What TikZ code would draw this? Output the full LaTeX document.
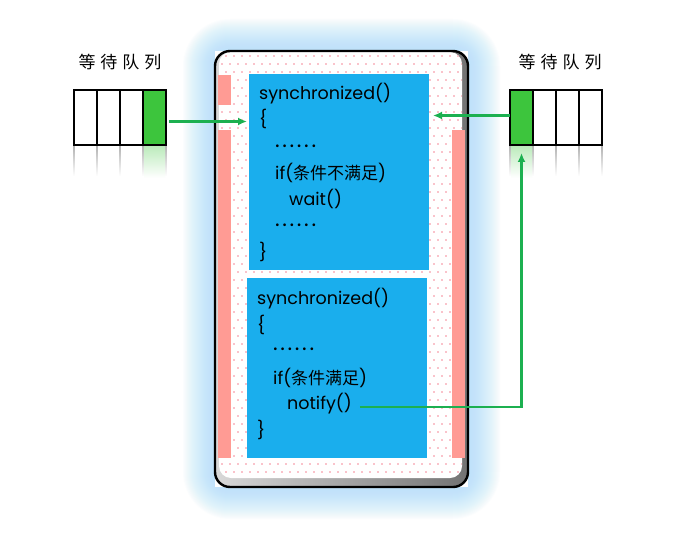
\documentclass[tikz,border=0pt]{standalone}
\usepackage{fontspec}
\setmainfont{Poppins}
\newfontfamily\cjk{Noto Sans CJK SC}
\usetikzlibrary{arrows.meta}
\definecolor{codeblue}{RGB}{26,174,237}
\definecolor{barpink}{RGB}{255,155,148}
\definecolor{cellgreen}{RGB}{61,197,61}
\definecolor{arrowgreen}{RGB}{28,176,80}
\definecolor{glowblue}{RGB}{175,226,250}
\definecolor{dotpink}{RGB}{245,135,150}
\begin{document}
\begin{tikzpicture}[x=1pt,y=-1pt,
 cell/.style={draw=black,line width=1.3pt,minimum width=23pt,minimum height=55pt,inner sep=0pt,outer sep=0pt,fill=white},
 gcell/.style={cell,fill=cellgreen},
 code/.style={anchor=base west,inner sep=0pt,font=\fontsize{17.5}{20}\selectfont},
 qlabel/.style={font=\cjk\fontsize{17}{20}\selectfont,inner sep=0pt},
 garrow/.style={draw=arrowgreen,line width=2.4pt,-{Latex[length=9pt,width=8pt]}},
 codebox/.style={fill=codeblue,inner sep=0pt,outer sep=0pt},
 pinkbar/.style={fill=barpink},
 refl/.style={top color=black!30,bottom color=white},
]
\useasboundingbox[fill=white] (0,0) rectangle (700,537);
% glow
\foreach \i [evaluate=\i as \r using 15+\i] in {1,...,32}
  \fill[glowblue,opacity=0.04,rounded corners=\r pt] (215-\i,51-\i) rectangle (468+\i,487+\i);
% frame
\fill[white] (215,51) rectangle (468,487);
\shade[left color=black!15,right color=black!55,rounded corners=15pt] (215,51) rectangle (468,487);
\fill[white,rounded corners=12pt] (219,52) rectangle (462,478);
\begin{scope}
  \clip[rounded corners=12pt] (219,52) rectangle (462,478);
  \foreach \row in {0,...,53}{
    \foreach \col in {0,...,31}{
      \pgfmathsetmacro\dx{mod(\row,2)*4}
      \fill[dotpink] (218+\col*8+\dx,56+\row*8) circle (0.8pt);
    }
  }
\end{scope}
\draw[line width=2.4pt,rounded corners=15pt] (215,51) rectangle (468,487);
% pink bars
\fill[pinkbar] (218,75) rectangle (231,105);
\fill[pinkbar] (218,130) rectangle (231,458);
\fill[pinkbar] (452,130) rectangle (465,458);
% code boxes
\node[codebox,minimum width=180pt,minimum height=196pt] (topbox) at (339,172) {};
\node[codebox,minimum width=180pt,minimum height=180pt] (botbox) at (337,368) {};
% top code
\node[code] (t1) at (259,100) {synchronized()};
\node[code] (t2) at (259,126) {\{};
\node[code] (t3) at (275,148) {\fontsize{22}{22}\selectfont\addfontfeature{LetterSpace=12}......};
\node[code] (t4) at (275,180) {if({\cjk\fontsize{17}{18}\selectfont 条件不满足})};
\node[code] (t5) at (289,205) {wait()};
\node[code] (t6) at (275,226) {\fontsize{22}{22}\selectfont\addfontfeature{LetterSpace=12}......};
\node[code] (t7) at (259,258) {\}};
% bottom code
\node[code] (b1) at (257,304) {synchronized()};
\node[code] (b2) at (257,331) {\{};
\node[code] (b3) at (273,350) {\fontsize{22}{22}\selectfont\addfontfeature{LetterSpace=12}......};
\node[code] (b4) at (273,384) {if({\cjk\fontsize{17}{18}\selectfont 条件满足})};
\node[code] (b5) at (287,409) {notify()};
\node[code] (b6) at (257,436) {\}};
% left queue
\node[qlabel] (lqlabel) at (120,62) {等\hspace{5pt}待\hspace{5pt}队\hspace{5pt}列};
\foreach \x in {74,97,120,143,166}
  \fill[refl] (\x-0.8,146) rectangle (\x+0.8,176);
\fill[top color=cellgreen!35,bottom color=white] (144,146) rectangle (165,178);
\node[cell] (lq1) at (85.5,117.5) {};
\node[cell] (lq2) at (108.5,117.5) {};
\node[cell] (lq3) at (131.5,117.5) {};
\node[gcell] (lq4) at (154.5,117.5) {};
% right queue
\node[qlabel] (rqlabel) at (560,62) {等\hspace{5pt}待\hspace{5pt}队\hspace{5pt}列};
\foreach \x in {510,533,556,579,602}
  \fill[refl] (\x-0.8,146) rectangle (\x+0.8,176);
\fill[top color=cellgreen!35,bottom color=white] (511,146) rectangle (532,178);
\node[gcell] (rq1) at (521.5,117.5) {};
\node[cell] (rq2) at (544.5,117.5) {};
\node[cell] (rq3) at (567.5,117.5) {};
\node[cell] (rq4) at (590.5,117.5) {};
% arrows
\coordinate (la) at ([yshift=-4pt]lq4.east);
\draw[garrow,shorten <=3pt,shorten >=2pt] (la) -- (la -| topbox.west);
\coordinate (ra) at ([yshift=2pt]rq1.west);
\draw[garrow,shorten >=4pt] (ra) -- (ra -| topbox.east);
\draw[garrow,shorten <=8pt,shorten >=8pt] ([yshift=-4pt]b5.east) -| (rq1.south);
\end{tikzpicture}
\end{document}
